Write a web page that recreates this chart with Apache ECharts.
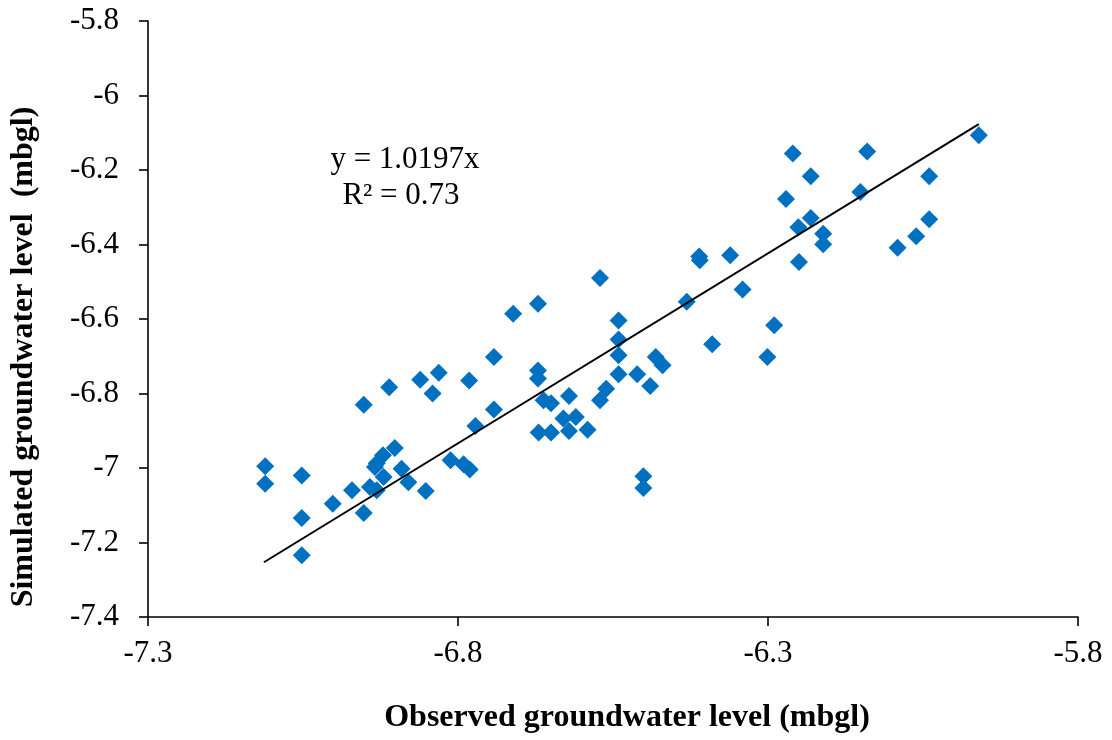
<!DOCTYPE html>
<html>
<head>
<meta charset="utf-8">
<script src="https://cdn.jsdelivr.net/npm/echarts@6/dist/echarts.min.js"></script>
<style>
  html, body { margin: 0; padding: 0; background: #ffffff; }
  #chart { width: 1112px; height: 740px; }
</style>
</head>
<body>
<div id="chart"></div>
<script>
// Observed groundwater level (mbgl)
const observed = [
  -7.111, -7.111, -7.052, -7.052, -7.052, -7.002, -6.971, -6.952, -6.952, -6.911,
  -6.861, -6.831, -6.841, -6.782, -6.742, -6.742, -6.772, -6.902, -6.921, -6.931,
  -6.934, -6.920, -6.942, -6.931, -6.891, -6.880, -6.852, -6.812, -6.791, -6.781,
  -6.571, -6.711, -6.671, -6.541, -6.541, -6.541, -6.671, -6.671, -6.541, -6.511,
  -6.481, -6.470, -6.490, -6.561, -6.571, -6.431, -6.390, -6.662, -6.650, -6.621,
  -6.630, -6.610, -6.621, -6.670, -6.650, -6.591, -6.501, -6.501, -5.960, -6.260,
  -6.140, -6.231, -6.040, -6.271, -6.151, -6.231, -6.251, -6.040, -6.061, -6.091,
  -6.211, -6.211, -6.250, -6.411, -6.410, -6.361, -6.341, -6.290, -6.301
];
// Simulated groundwater level (mbgl)
const simulated = [
  -6.995, -7.042, -7.020, -7.134, -7.234, -7.096, -7.060, -6.830, -7.121, -6.783,
  -6.763, -6.744, -6.800, -6.765, -6.702, -6.843, -6.887, -6.946, -6.966, -6.987,
  -6.997, -7.024, -7.051, -7.060, -7.002, -7.038, -7.062, -6.979, -6.990, -7.004,
  -6.490, -6.586, -6.559, -6.604, -6.655, -6.697, -6.738, -6.760, -6.748, -6.748,
  -6.702, -6.724, -6.780, -6.787, -6.818, -6.554, -6.668, -6.818, -6.826, -6.807,
  -6.867, -6.863, -6.901, -6.905, -6.905, -6.897, -7.022, -7.054, -6.107, -6.156,
  -6.150, -6.217, -6.217, -6.278, -6.259, -6.329, -6.354, -6.332, -6.378, -6.409,
  -6.371, -6.399, -6.447, -6.432, -6.442, -6.429, -6.521, -6.617, -6.702
];
// Linear trendline (y = 1.0197x) end points
const trendX = [-7.113, -5.960];
const trendY = [-7.253, -6.077];

const equationText = 'y = 1.0197x';
const r2Text = 'R\u00b2 = 0.73';
const xTitle = 'Observed groundwater level (mbgl)';
const yTitle = 'Simulated groundwater level  (mbgl)';

const FONT = '"Liberation Serif", "Times New Roman", serif';

const chart = echarts.init(document.getElementById('chart'), null, { renderer: 'canvas' });

const option = {
  backgroundColor: '#ffffff',
  animation: false,
  grid: { left: 148, right: 34, top: 21, bottom: 123, containLabel: false },
  xAxis: {
    type: 'value',
    min: -7.3, max: -5.8, interval: 0.5,
    axisLine: { show: true, onZero: false, lineStyle: { color: '#000', width: 1.6 } },
    axisTick: { show: true, inside: false, length: 9, lineStyle: { color: '#000', width: 1.6 } },
    splitLine: { show: false },
    axisLabel: {
      color: '#000', fontFamily: FONT, fontSize: 31, margin: 21,
      formatter: v => String(+v.toFixed(2))
    }
  },
  yAxis: {
    type: 'value',
    min: -7.4, max: -5.8, interval: 0.2,
    axisLine: { show: true, onZero: false, lineStyle: { color: '#000', width: 1.6 } },
    axisTick: { show: true, inside: false, length: 9, lineStyle: { color: '#000', width: 1.6 } },
    splitLine: { show: false },
    axisLabel: {
      color: '#000', fontFamily: FONT, fontSize: 31, margin: 29,
      formatter: v => String(+v.toFixed(2))
    }
  },
  series: [
    {
      type: 'scatter',
      symbol: 'diamond',
      symbolSize: 18,
      itemStyle: { color: '#0070C0', opacity: 1 },
      data: observed.map((x, i) => [x, simulated[i]]),
      z: 2
    },
    {
      type: 'line',
      data: trendX.map((x, i) => [x, trendY[i]]),
      showSymbol: false,
      symbol: 'none',
      lineStyle: { color: '#000', width: 2 },
      z: 3,
      silent: true
    }
  ],
  graphic: [
    {
      type: 'text',
      x: 405, y: 160,
      style: { text: equationText, fill: '#000', font: '31px ' + FONT, textAlign: 'center', textVerticalAlign: 'middle' }
    },
    {
      type: 'text',
      x: 401, y: 196,
      style: { text: r2Text, fill: '#000', font: '31px ' + FONT, textAlign: 'center', textVerticalAlign: 'middle' }
    },
    {
      type: 'text',
      x: 627, y: 718,
      style: { text: xTitle, fill: '#000', font: 'bold 32px ' + FONT, textAlign: 'center', textVerticalAlign: 'middle' }
    },
    {
      type: 'text',
      x: 24, y: 357,
      rotation: Math.PI / 2,
      style: { text: yTitle, fill: '#000', font: 'bold 32px ' + FONT, textAlign: 'center', textVerticalAlign: 'middle' }
    }
  ]
};

chart.setOption(option);
</script>
</body>
</html>
